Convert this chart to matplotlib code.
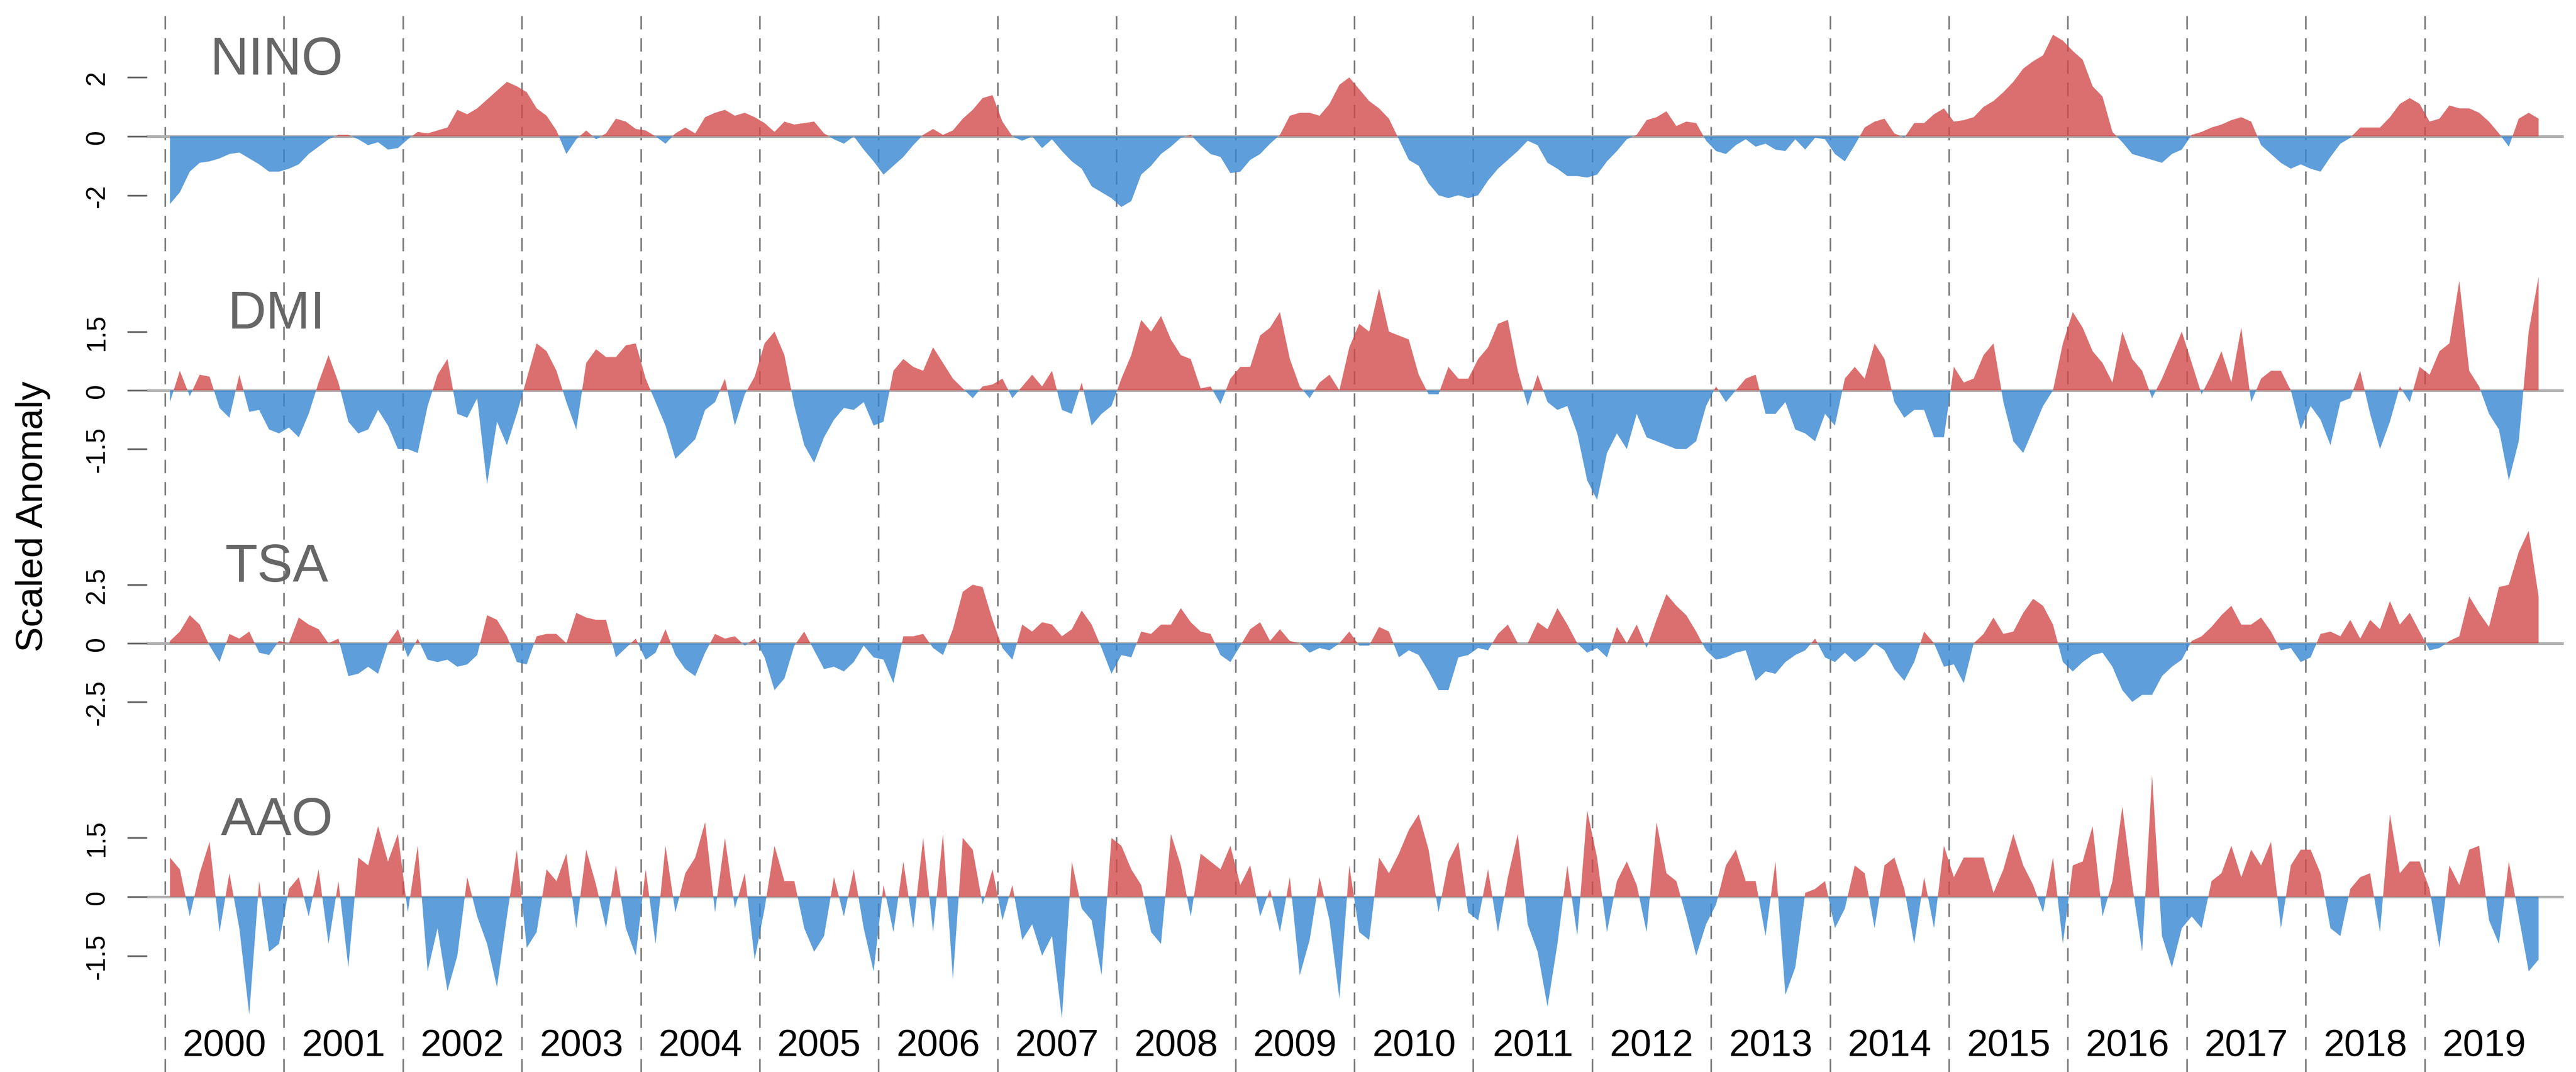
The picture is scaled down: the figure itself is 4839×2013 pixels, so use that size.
import matplotlib

matplotlib.use("Agg")
import matplotlib.pyplot as plt
import numpy as np
from matplotlib.lines import Line2D
from matplotlib.transforms import blended_transform_factory


W, H, DPI = 4839, 2014, 300
YEARS = list(range(2000, 2020))
PANEL_NAMES = ["NINO", "DMI", "TSA", "AAO"]
TICK_STEPS = [2, 1.5, 2.5, 1.5]

# monthly scaled anomalies, Jan 2000 .. Dec 2019 (one row per year)
NINO = [
    -2.3, -1.9, -1.2, -0.9, -0.85, -0.75, -0.6, -0.55, -0.75, -0.95, -1.2, -1.2,
    -1.1, -0.95, -0.6, -0.35, -0.1, 0.05, 0.05, -0.1, -0.3, -0.2, -0.45, -0.4,
    -0.1, 0.15, 0.1, 0.2, 0.3, 0.9, 0.75, 0.95, 1.25, 1.55, 1.85, 1.7,
    1.5, 0.95, 0.7, 0.2, -0.6, -0.1, 0.2, -0.1, 0.1, 0.6, 0.5, 0.25,
    0.2, 0.0, -0.25, 0.1, 0.3, 0.1, 0.65, 0.8, 0.9, 0.7, 0.8, 0.65,
    0.45, 0.15, 0.5, 0.4, 0.45, 0.5, 0.1, -0.1, -0.25, 0.0, -0.45, -0.85,
    -1.3, -1.0, -0.7, -0.3, 0.05, 0.25, 0.05, 0.2, 0.6, 0.9, 1.3, 1.4,
    0.5, 0.0, -0.15, 0.0, -0.4, -0.1, -0.5, -0.85, -1.1, -1.7, -1.9, -2.1,
    -2.4, -2.2, -1.3, -1.0, -0.6, -0.35, -0.05, 0.05, -0.3, -0.6, -0.7, -1.25,
    -1.2, -0.8, -0.6, -0.25, 0.05, 0.7, 0.8, 0.8, 0.7, 1.1, 1.75, 2.0,
    1.6, 1.2, 0.95, 0.6, -0.1, -0.8, -1.0, -1.6, -2.0, -2.1, -2.0, -2.1,
    -2.0, -1.5, -1.1, -0.8, -0.5, -0.15, -0.3, -0.9, -1.1, -1.35, -1.35, -1.4,
    -1.3, -0.85, -0.5, -0.1, 0.05, 0.55, 0.65, 0.85, 0.35, 0.5, 0.45, -0.15,
    -0.5, -0.6, -0.3, -0.1, -0.35, -0.25, -0.45, -0.5, -0.1, -0.45, -0.05, -0.1,
    -0.6, -0.85, -0.3, 0.3, 0.5, 0.6, 0.1, -0.05, 0.45, 0.45, 0.75, 0.95,
    0.5, 0.55, 0.65, 1.0, 1.2, 1.5, 1.85, 2.3, 2.55, 2.75, 3.45, 3.25,
    2.9, 2.6, 1.7, 1.35, 0.15, -0.2, -0.6, -0.7, -0.8, -0.9, -0.6, -0.45,
    0.05, 0.15, 0.3, 0.4, 0.55, 0.65, 0.5, -0.3, -0.6, -0.9, -1.1, -0.95,
    -1.1, -1.2, -0.7, -0.25, -0.05, 0.3, 0.3, 0.3, 0.65, 1.1, 1.3, 1.1,
    0.5, 0.6, 1.05, 0.95, 0.95, 0.8, 0.5, 0.1, -0.35, 0.6, 0.8, 0.6,
]
DMI = [
    -0.3, 0.5, -0.15, 0.4, 0.35, -0.45, -0.7, 0.4, -0.55, -0.5, -1.0, -1.1,
    -0.95, -1.2, -0.6, 0.2, 0.9, 0.2, -0.8, -1.1, -1.0, -0.5, -0.9, -1.5,
    -1.5, -1.6, -0.4, 0.4, 0.8, -0.6, -0.7, -0.2, -2.4, -0.8, -1.4, -0.6,
    0.3, 1.2, 1.0, 0.5, -0.3, -1.0, 0.7, 1.05, 0.85, 0.85, 1.15, 1.2,
    0.3, -0.3, -0.9, -1.75, -1.5, -1.25, -0.5, -0.3, 0.3, -0.9, -0.1, 0.35,
    1.2, 1.5, 0.9, -0.4, -1.4, -1.85, -1.2, -0.75, -0.45, -0.5, -0.3, -0.9,
    -0.8, 0.5, 0.8, 0.6, 0.5, 1.1, 0.7, 0.3, 0.05, -0.2, 0.1, 0.15,
    0.3, -0.2, 0.1, 0.4, 0.1, 0.5, -0.5, -0.6, 0.2, -0.9, -0.6, -0.4,
    0.3, 0.9, 1.8, 1.5, 1.9, 1.3, 0.9, 0.8, 0.05, 0.1, -0.35, 0.3,
    0.6, 0.6, 1.4, 1.6, 2.0, 0.8, 0.1, -0.2, 0.2, 0.4, 0.0, 1.1,
    1.7, 1.5, 2.6, 1.5, 1.4, 1.3, 0.4, -0.1, -0.1, 0.6, 0.3, 0.3,
    0.8, 1.1, 1.7, 1.8, 0.5, -0.4, 0.4, -0.3, -0.5, -0.4, -1.1, -2.3,
    -2.8, -1.6, -1.1, -1.5, -0.6, -1.2, -1.3, -1.4, -1.5, -1.5, -1.3, -0.4,
    0.1, -0.3, 0.0, 0.3, 0.4, -0.6, -0.6, -0.3, -1.0, -1.1, -1.3, -0.6,
    -0.9, 0.3, 0.6, 0.3, 1.2, 0.8, -0.3, -0.7, -0.5, -0.5, -1.2, -1.2,
    0.6, 0.2, 0.3, 0.9, 1.2, -0.3, -1.3, -1.6, -1.0, -0.4, 0.0, 1.2,
    2.0, 1.6, 1.0, 0.7, 0.2, 1.5, 0.8, 0.5, -0.2, 0.3, 0.9, 1.5,
    0.7, -0.1, 0.4, 1.0, 0.2, 1.6, -0.3, 0.3, 0.5, 0.5, 0.0, -1.0,
    -0.4, -0.75, -1.4, -0.3, -0.2, 0.5, -0.6, -1.5, -0.8, 0.1, -0.3, 0.6,
    0.4, 1.0, 1.2, 2.8, 0.5, 0.1, -0.6, -1.0, -2.3, -1.3, 1.5, 2.9,
]
TSA = [
    0.1, 0.5, 1.2, 0.8, -0.1, -0.8, 0.4, 0.2, 0.5, -0.4, -0.5, 0.1,
    0.0, 1.1, 0.8, 0.6, 0.0, 0.2, -1.4, -1.3, -1.0, -1.3, 0.0, 0.6,
    -0.6, 0.2, -0.7, -0.8, -0.7, -1.0, -0.9, -0.5, 1.2, 1.0, 0.3, -0.8,
    -0.9, 0.3, 0.4, 0.4, 0.0, 1.3, 1.1, 1.0, 1.0, -0.6, -0.2, 0.2,
    -0.7, -0.4, 0.6, -0.5, -1.1, -1.4, -0.4, 0.4, 0.2, 0.3, -0.1, 0.2,
    -0.6, -2.0, -1.5, -0.1, 0.5, -0.3, -1.1, -1.0, -1.2, -0.8, -0.1, -0.6,
    -0.7, -1.7, 0.3, 0.3, 0.4, -0.2, -0.5, 0.6, 2.2, 2.5, 2.4, 1.0,
    -0.2, -0.7, 0.8, 0.5, 0.9, 0.8, 0.3, 0.6, 1.4, 0.8, -0.2, -1.3,
    -0.5, -0.6, 0.5, 0.4, 0.8, 0.8, 1.5, 0.9, 0.5, 0.4, -0.5, -0.8,
    -0.1, 0.6, 0.9, 0.1, 0.6, 0.1, 0.0, -0.4, -0.2, -0.3, 0.0, 0.5,
    -0.1, -0.1, 0.7, 0.5, -0.6, -0.3, -0.5, -1.2, -2.0, -2.0, -0.6, -0.5,
    -0.2, -0.3, 0.4, 0.8, 0.0, 0.0, 0.9, 0.6, 1.5, 0.8, 0.0, -0.4,
    -0.2, -0.6, 0.7, 0.0, 0.8, -0.2, 1.0, 2.1, 1.6, 1.2, 0.5, -0.3,
    -0.7, -0.6, -0.4, -0.3, -1.6, -1.2, -1.3, -0.8, -0.5, -0.3, 0.2, -0.6,
    -0.8, -0.4, -0.8, -0.5, 0.0, -0.3, -1.1, -1.6, -0.8, 0.5, 0.0, -1.0,
    -0.9, -1.7, 0.0, 0.4, 1.1, 0.4, 0.5, 1.3, 1.9, 1.6, 0.8, -0.8,
    -1.2, -0.8, -0.5, -0.4, -1.0, -2.0, -2.5, -2.2, -2.2, -1.4, -1.0, -0.7,
    0.1, 0.3, 0.7, 1.2, 1.6, 0.8, 0.8, 1.1, 0.5, -0.3, -0.2, -0.8,
    -0.6, 0.4, 0.5, 0.3, 1.0, 0.2, 1.0, 0.6, 1.8, 0.8, 1.3, 0.5,
    -0.3, -0.2, 0.1, 0.3, 2.0, 1.3, 0.7, 2.4, 2.5, 3.9, 4.8, 2.0,
]
AAO = [
    1.0, 0.7, -0.5, 0.6, 1.4, -0.9, 0.6, -0.8, -3.0, 0.4, -1.4, -1.2,
    0.2, 0.5, -0.5, 0.7, -1.2, 0.4, -1.8, 1.0, 0.8, 1.8, 0.9, 1.6,
    -0.4, 1.3, -1.9, -0.8, -2.4, -1.5, 0.5, -0.5, -1.2, -2.3, -0.5, 1.2,
    -1.3, -0.9, 0.7, 0.4, 1.1, -0.8, 1.2, 0.3, -0.8, 0.8, -0.8, -1.5,
    0.7, -1.2, 1.3, -0.4, 0.6, 1.0, 1.9, -0.4, 1.5, -0.3, 0.6, -1.6,
    -0.3, 1.3, 0.4, 0.4, -0.8, -1.4, -1.0, 0.5, -0.5, 0.7, -0.8, -1.9,
    0.3, -0.9, 0.9, -0.8, 1.5, -0.9, 1.6, -2.1, 1.5, 1.2, -0.2, 0.7,
    -0.6, 0.3, -1.1, -0.7, -1.5, -1.0, -3.1, 0.9, -0.3, -0.6, -2.0, 1.5,
    1.3, 0.7, 0.3, -0.9, -1.2, 1.6, 0.8, -0.5, 1.1, 0.9, 0.7, 1.3,
    0.3, 0.8, -0.5, 0.2, -0.9, 0.5, -2.0, -1.1, 0.5, -0.6, -2.6, 0.8,
    -0.9, -1.1, 1.0, 0.6, 1.1, 1.7, 2.1, 1.2, -0.4, 0.9, 1.4, -0.4,
    -0.6, 0.7, -0.9, 0.5, 1.6, -0.7, -1.4, -2.8, -1.2, 0.8, -1.0, 2.2,
    1.0, -0.9, 0.4, 0.9, 0.3, -0.9, 1.9, 0.6, 0.4, -0.5, -1.5, -0.7,
    -0.2, 0.8, 1.2, 0.4, 0.4, -1.0, 0.9, -2.5, -1.8, 0.1, 0.2, 0.4,
    -0.8, -0.3, 0.8, 0.6, -0.8, 0.8, 1.0, 0.2, -1.2, 0.5, -0.8, 1.3,
    0.5, 1.0, 1.0, 1.0, 0.1, 0.7, 1.6, 0.8, 0.3, -0.4, 1.0, -1.2,
    0.8, 0.9, 1.8, -0.5, 0.4, 2.3, 0.3, -1.4, 3.1, -1.0, -1.8, -0.8,
    -0.5, -0.8, 0.4, 0.6, 1.3, 0.5, 1.2, 0.8, 1.4, -0.8, 0.8, 1.2,
    1.2, 0.6, -0.8, -1.0, 0.2, 0.5, 0.6, -0.9, 2.1, 0.6, 0.9, 0.9,
    0.2, -1.3, 0.8, 0.3, 1.2, 1.3, -0.6, -1.2, 0.9, -0.5, -1.9, -1.6,
]
SERIES = [NINO, DMI, TSA, AAO]

RED = "#d24b4b"
BLUE = "#3686d2"
LABEL_GREY = "#666666"

# layout measured on the reference, in output pixels
ZERO_PX = [257, 734, 1209, 1685]
PX_PER_UNIT = [55.3, 73.5, 44.0, 73.7]
BAND_PX = 476
X_LEFT_PX, X_RIGHT_PX = 276, 4816
XLIM = (1999.848, 2020.17)


def setup():
    plt.rcParams.update(
        {
            "font.family": ["Liberation Sans", "DejaVu Sans"],
            "lines.scale_dashes": False,
        }
    )
    return plt.figure(figsize=(W / DPI, H / DPI), dpi=DPI)


def draw_panel(fig, i, dates):
    top = BAND_PX * i
    k = PX_PER_UNIT[i]
    z = ZERO_PX[i]
    ax = fig.add_axes([X_LEFT_PX / W, 1 - (top + BAND_PX) / H, (X_RIGHT_PX - X_LEFT_PX) / W, BAND_PX / H])
    ax.set_xlim(*XLIM)
    ax.set_ylim(-(top + BAND_PX - z) / k, (z - top) / k)
    ax.patch.set_visible(False)
    for spine in ax.spines.values():
        spine.set_visible(False)
    ax.set_xticks([])
    step = TICK_STEPS[i]
    ticks = [-step, 0, step]
    ax.set_yticks(ticks)
    ax.set_yticklabels([f"{t:g}" for t in ticks], rotation=90, va="center")
    ax.tick_params(axis="y", length=8.9, width=0.8, color="#666666", pad=8, labelsize=12)

    vals = np.asarray(SERIES[i], dtype=float)
    ax.axhline(0, color="#b0b0b0", lw=1.2, zorder=1)
    ax.fill_between(dates, vals, 0, where=vals >= 0, interpolate=True, color=RED,
                    alpha=0.8, lw=0, zorder=2, clip_on=False)
    ax.fill_between(dates, vals, 0, where=vals <= 0, interpolate=True, color=BLUE,
                    alpha=0.8, lw=0, zorder=2, clip_on=False)
    ax.text(2000.94, 117 / k, PANEL_NAMES[i], ha="center", va="baseline",
            fontsize=24, color=LABEL_GREY)
    return ax


def main():
    fig = setup()
    dates = 2000 + (np.arange(len(NINO)) + 0.5) / 12
    axes = [draw_panel(fig, i, dates) for i in range(4)]

    xfig = blended_transform_factory(axes[0].transData, fig.transFigure)
    for yr in YEARS:
        fig.add_artist(Line2D([yr, yr], [0, 1 - 20 / H], transform=xfig, color="#808080",
                              lw=0.75, linestyle=(0, (6, 4)), zorder=-1))
        fig.text(yr + 0.5, 1 - 1984 / H, str(yr), transform=xfig, ha="center",
                 va="baseline", fontsize=17)

    fig.text(62 / W, 1 - 970 / H, "Scaled Anomaly", rotation=90, ha="center",
             va="center", fontsize=17)
    fig.savefig("out.png", dpi=DPI)
    plt.close(fig)


if __name__ == "__main__":
    main()
